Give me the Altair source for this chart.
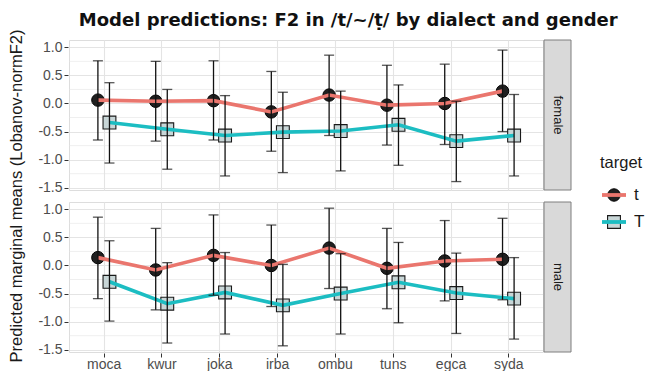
import altair as alt
import pandas as pd

dialects = ["moca", "kwur", "joka", "irba", "ombu", "tuns", "egca", "syda"]
targets = ["t", "T"]
genders = ["female", "male"]

# female
f_t_mean = [0.06, 0.04, 0.05, -0.15, 0.15, -0.03, 0.00, 0.22]
f_t_lo = [-0.65, -0.67, -0.65, -0.85, -0.57, -0.74, -0.73, -0.50]
f_t_hi = [0.76, 0.75, 0.76, 0.57, 0.86, 0.68, 0.70, 0.95]
f_T_mean = [-0.34, -0.46, -0.57, -0.51, -0.49, -0.38, -0.67, -0.57]
f_T_lo = [-1.06, -1.17, -1.29, -1.23, -1.20, -1.10, -1.39, -1.29]
f_T_hi = [0.37, 0.25, 0.14, 0.20, 0.22, 0.33, 0.04, 0.16]
# male
m_t_mean = [0.14, -0.08, 0.18, 0.00, 0.31, -0.05, 0.08, 0.11]
m_t_lo = [-0.59, -0.79, -0.53, -0.73, -0.41, -0.77, -0.63, -0.61]
m_t_hi = [0.86, 0.66, 0.90, 0.72, 1.02, 0.66, 0.80, 0.84]
m_T_mean = [-0.29, -0.68, -0.48, -0.71, -0.50, -0.30, -0.49, -0.59]
m_T_lo = [-0.99, -1.38, -1.22, -1.43, -1.22, -1.02, -1.21, -1.31]
m_T_hi = [0.44, 0.05, 0.23, 0.02, 0.21, 0.41, 0.22, 0.14]

y_major = [-1.5, -1.0, -0.5, 0.0, 0.5, 1.0]
y_minor = [-1.25, -0.75, -0.25, 0.25, 0.75]

series = {
    ("female", "t"): (f_t_mean, f_t_lo, f_t_hi),
    ("female", "T"): (f_T_mean, f_T_lo, f_T_hi),
    ("male", "t"): (m_t_mean, m_t_lo, m_t_hi),
    ("male", "T"): (m_T_mean, m_T_lo, m_T_hi),
}
rows = []
for (g, tg), (mu, lo, hi) in series.items():
    for i, d in enumerate(dialects):
        rows.append({"gender": g, "target": tg, "dialect": d, "idx": i,
                     "mean": mu[i], "lo": lo[i], "hi": hi[i]})
df = pd.DataFrame(rows)

RED = "#EA766E"
TEAL = "#1CBDC2"
GRID = "#E4E4E4"
W, H = 474, 150
DODGE = 0.1

label_js = "[" + ",".join("'%s'" % d for d in dialects) + "]"

xaxis = alt.Axis(values=list(range(len(dialects))),
                 labelExpr=label_js + "[round(datum.value)]",
                 domain=False, tickSize=4, tickColor="#333333",
                 labelColor="#4D4D4D", labelFontSize=14, labelPadding=0,
                 gridColor=GRID, gridWidth=1.1)
xenc = alt.X("xpos:Q", title=None,
             scale=alt.Scale(domain=[-0.6, len(dialects) - 0.4], nice=False, zero=False),
             axis=xaxis)
yscale = alt.Scale(domain=[-1.54, 1.13], nice=False, zero=False)
yaxis = alt.Axis(values=y_major, labelOverlap=False,
                 labelExpr="replace(format(datum.value, '.1f'), '\u2212', '-')",
                 domain=False, tickSize=4, tickColor="#333333",
                 gridWidth=1.1, gridColor=GRID,
                 labelColor="#4D4D4D", labelFontSize=14, labelPadding=2)


def Y(field):
    return alt.Y(field, title=None, scale=yscale, axis=yaxis)


base = alt.Chart().transform_calculate(
    xpos="datum.idx + (datum.target == 't' ? -%f : %f)" % (DODGE, DODGE)
)

first = "datum.dialect == '%s' && datum.target == '%s'" % (dialects[0], targets[0])
minor_js = "[" + ",".join(str(v) for v in y_minor) + "]"
minor = alt.Chart().mark_rule(color=GRID, strokeWidth=0.6).encode(
    y=Y("v:Q")
).transform_filter(first).transform_calculate(v=minor_js).transform_flatten(["v"])

pts_t = base.mark_circle(size=155, color="#202020", stroke="#000000",
                         strokeWidth=1, opacity=1).encode(
    x=xenc, y=Y("mean:Q")).transform_filter("datum.target == 't'")
pts_T = base.mark_square(size=165, fill="#C8D6D7", stroke="#1A1A1A",
                         strokeWidth=1.1, opacity=1).encode(
    x=xenc, y=Y("mean:Q")).transform_filter("datum.target == 'T'")

lines = base.mark_line(strokeWidth=3.6).encode(
    x=xenc, y=Y("mean:Q"),
    color=alt.Color("target:N", scale=alt.Scale(domain=targets, range=[RED, TEAL]), legend=None),
    order="idx:Q",
)

bars = base.mark_rule(color="#111111", strokeWidth=1.3).encode(
    x=xenc, y=Y("lo:Q"), y2="hi:Q")
cap_lo = base.mark_tick(color="#111111", thickness=1.3, size=10, orient="horizontal").encode(
    x=xenc, y=Y("lo:Q"))
cap_hi = base.mark_tick(color="#111111", thickness=1.3, size=10, orient="horizontal").encode(
    x=xenc, y=Y("hi:Q"))

strip = alt.Chart().mark_rect(fill="#D9D9D9", stroke="#7F7F7F", strokeWidth=1).encode(
    x=alt.value(W + 1), x2=alt.value(W + 28), y=alt.value(0), y2=alt.value(H)
).transform_filter(first)
strip_txt = alt.Chart().mark_text(angle=90, fontSize=13, color="#1A1A1A",
                                  font="Liberation Sans").encode(
    x=alt.value(W + 14.5), y=alt.value(H / 2), text="gender:N"
).transform_filter(first)

panel = alt.layer(minor, pts_t, pts_T, lines, bars, cap_lo, cap_hi, strip, strip_txt,
                  data=df).properties(width=W, height=H)

facet = panel.facet(
    row=alt.Row("gender:N", sort=genders,
                header=alt.Header(title="Predicted marginal means (Lobanov-normF2)",
                                  labels=False, titleOrient="left",
                                  titleFontSize=16.5, titleFont="Liberation Sans",
                                  titleFontWeight="normal", titleColor="#1A1A1A",
                                  titlePadding=2)),
    spacing=10,
)

leg_df = pd.DataFrame({"target": targets})
ly = alt.Y("target:N", axis=None,
           scale=alt.Scale(type="point", domain=targets, range=[155, 182], padding=0))
leg_title = alt.Chart(pd.DataFrame({"t": ["target"]})).mark_text(
    align="left", baseline="alphabetic", fontSize=16.5, font="Liberation Sans",
    color="#1A1A1A").encode(x=alt.value(18), y=alt.value(128), text="t:N")
leg_pt_t = alt.Chart(leg_df).mark_circle(size=155, color="#202020", stroke="#000000",
                                         strokeWidth=1, opacity=1).encode(
    x=alt.value(32), y=ly).transform_filter("datum.target == 't'")
leg_pt_T = alt.Chart(leg_df).mark_square(size=165, fill="#C8D6D7", stroke="#1A1A1A",
                                         strokeWidth=1.1, opacity=1).encode(
    x=alt.value(32), y=ly).transform_filter("datum.target == 'T'")
leg_line = alt.Chart(leg_df).mark_rule(strokeWidth=3.8).encode(
    x=alt.value(20), x2=alt.value(44), y=ly,
    color=alt.Color("target:N", scale=alt.Scale(domain=targets, range=[RED, TEAL]), legend=None))
leg_txt = alt.Chart(leg_df).mark_text(align="left", baseline="middle", fontSize=17,
                                      font="Liberation Sans", color="#1A1A1A").encode(
    x=alt.value(52), y=ly, text="target:N")
legend = alt.layer(leg_pt_t, leg_pt_T, leg_line, leg_txt, leg_title).properties(
    width=70, height=300, view=alt.ViewBackground(strokeOpacity=0))

chart = alt.hconcat(facet, legend, spacing=10).properties(
    title=alt.Title("Model predictions: F2 in /t/~/\u1e6d/ by dialect and gender",
                    font="DejaVu Sans", fontSize=18, fontWeight="bold",
                    color="#111111", anchor="middle", dx=18, offset=0),
    padding={"top": 3, "left": 0, "right": 0, "bottom": 0},
).configure_view(stroke="#8C8C8C", strokeWidth=1).configure_axis(
    labelFont="Liberation Sans"
).configure(background="white")

chart.save("out.html", embed_options={"renderer": "svg", "actions": False})
